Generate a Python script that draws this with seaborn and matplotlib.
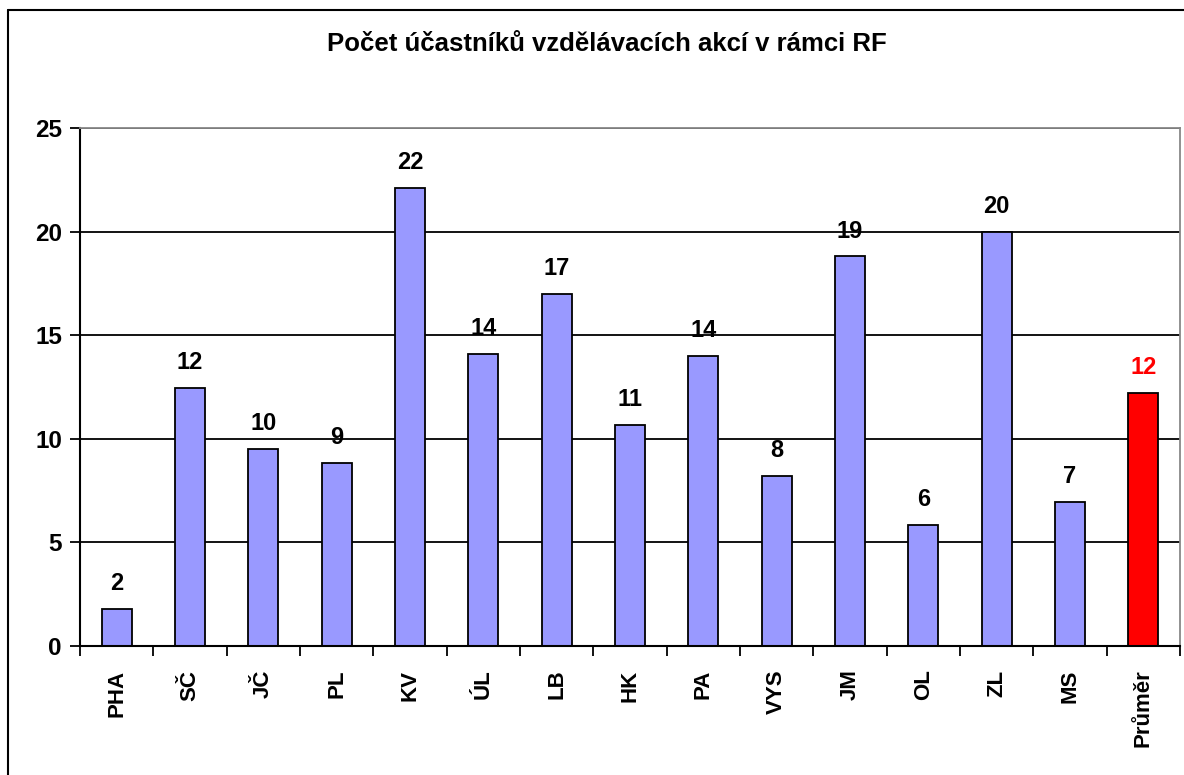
import matplotlib
matplotlib.use("Agg")
import matplotlib.pyplot as plt
import seaborn as sns
import pandas as pd
from matplotlib.lines import Line2D

# Data
regions = ["PHA", "SČ", "JČ", "PL", "KV", "ÚL", "LB", "HK", "PA", "VYS",
           "JM", "OL", "ZL", "MS", "Průměr"]
participants = [1.8, 12.45, 9.5, 8.85, 22.1, 14.1, 17.0, 10.65, 14.0, 8.2,
                18.8, 5.85, 20.0, 6.95, 12.2]
bar_colors = ["#9999FF"] * 14 + ["#FF0000"]
label_colors = ["black"] * 14 + ["#FF0000"]
y_ticks = [0, 5, 10, 15, 20, 25]

df = pd.DataFrame({"region": regions, "value": participants})

sns.set_style("white")
plt.rcParams["font.family"] = ["Liberation Sans", "DejaVu Sans"]
plt.rcParams["text.color"] = "black"
plt.rcParams["xtick.color"] = "black"
plt.rcParams["ytick.color"] = "black"

fig = plt.figure(figsize=(11.84, 7.75), dpi=100)
ax = fig.add_axes([80 / 1184, 1 - 646 / 775, 1100 / 1184, 518 / 775])

sns.barplot(data=df, x="region", y="value", hue="region",
            palette=bar_colors, saturation=1, legend=False, width=0.41,
            edgecolor="black", linewidth=1.3, ax=ax)

ax.set_xlim(-0.5, len(regions) - 0.5)
ax.set_ylim(0, 25)
ax.set_yticks(y_ticks)
ax.yaxis.grid(True, color="black", linewidth=1.3)
ax.set_axisbelow(True)
ax.set_xlabel("")
ax.set_ylabel("")

# value labels above bars
for i, (v, c) in enumerate(zip(participants, label_colors)):
    ax.annotate(f"{round(v):d}", (i, v), xytext=(0, 10), textcoords="offset points",
                ha="center", va="bottom", fontsize=17, fontweight="bold", color=c)

# ticks
ax.set_xticks(range(len(regions)))
ax.set_xticklabels(regions, rotation=90, fontsize=16, fontweight="bold")
ax.set_xticks([i + 0.5 for i in range(-1, len(regions))], minor=True)
ax.tick_params(axis="x", which="major", length=0, pad=17)
ax.tick_params(axis="x", which="minor", length=7, width=1.3, color="black", bottom=True)
ax.tick_params(axis="y", length=7, width=1.3, color="black", left=True, labelsize=17.5, pad=6)
for lbl in ax.get_yticklabels():
    lbl.set_fontweight("bold")

for side in ["left", "bottom"]:
    ax.spines[side].set_color("black")
    ax.spines[side].set_linewidth(1.5)
for side in ["top", "right"]:
    ax.spines[side].set_color("#888888")
    ax.spines[side].set_linewidth(1.3)

fig.text(607 / 1184, 1 - 51 / 775, "Počet účastníků vzdělávacích akcí v rámci RF",
         ha="center", va="baseline", fontsize=18.5, fontweight="bold")

# outer chart border
fig.add_artist(Line2D([8 / 1184, 8 / 1184], [0, 1 - 10 / 775], transform=fig.transFigure,
                      color="black", linewidth=1.5))
fig.add_artist(Line2D([8 / 1184, 1], [1 - 10 / 775, 1 - 10 / 775], transform=fig.transFigure,
                      color="black", linewidth=1.5))

plt.savefig("out.png", dpi=100)
plt.close()
